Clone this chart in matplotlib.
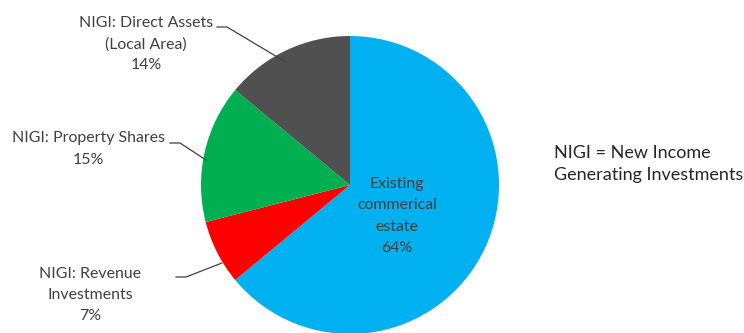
import matplotlib
matplotlib.use("Agg")
import matplotlib.pyplot as plt

labels = ["Existing\ncommerical\nestate", "NIGI: Revenue\nInvestments",
          "NIGI: Property Shares", "NIGI: Direct Assets\n(Local Area)"]
shares = [64, 7, 15, 14]
colors = ["#00B0F0", "#FF0000", "#00B050", "#505050"]
note = "NIGI = New Income\nGenerating Investments"

plt.rcParams['font.family'] = ['Lato', 'DejaVu Sans']
txt = "#404040"

fig = plt.figure(figsize=(7.44, 3.33), dpi=100)
ax = fig.add_axes([0, 0, 1, 1])

cx, cy, r = 350, 333 - 185, 149
wedges, _ = ax.pie(shares, colors=colors, startangle=90, counterclock=False,
                   center=(cx, cy), radius=r, frame=True,
                   wedgeprops=dict(linewidth=0))
ax.set_xlim(0, 744)
ax.set_ylim(0, 333)
ax.axis("off")

fs = 11.4
ls = 1.65
# inside label
ax.text(397, 333 - 216, labels[0] + "\n%d%%" % shares[0], ha="center", va="center",
        fontsize=fs, color=txt, linespacing=ls)

# outside labels: (index, text centre x, text centre y, leader points)
outs = [
    (1, 90, 295, [(176, 277), (186, 277), (222, 263)]),
    (2, 88, 149, [(170, 143), (180, 143), (206, 160)]),
    (3, 146, 44, [(217, 27), (227, 27), (284, 61)]),
]
for i, x, y, pts in outs:
    ax.text(x, 333 - y, labels[i] + "\n%d%%" % shares[i], ha="center", va="center",
            fontsize=fs, color=txt, linespacing=ls)
    ax.plot([p[0] for p in pts], [333 - p[1] for p in pts], color="#404040", lw=0.9)

ax.text(554, 333 - 164, note, ha="left", va="center", fontsize=13,
        color="#262626", linespacing=1.45)

fig.savefig("out.png", dpi=100)
